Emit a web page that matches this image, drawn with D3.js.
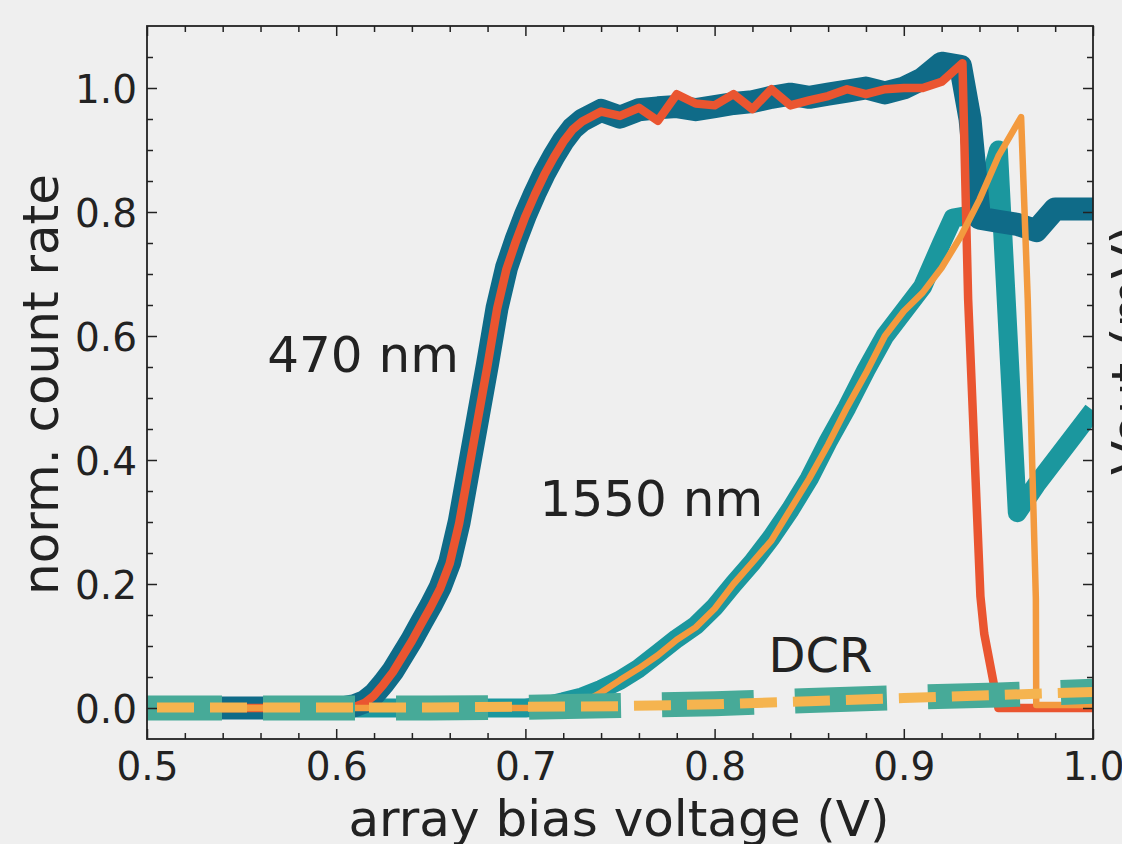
<!DOCTYPE html>
<html>
<head>
<meta charset="utf-8">
<script src="https://cdn.jsdelivr.net/npm/d3@7"></script>
<style>
  html, body { margin: 0; padding: 0; background: #efefef; overflow: hidden; }
  svg { display: block; font-family: "DejaVu Sans", sans-serif; }
</style>
</head>
<body>
<svg id="chart" width="1122" height="844"></svg>
<script>
// ---------------- data ----------------
// 470 nm, thick (dark teal) measurement
const v470Thick = [0.50,0.55,0.60,0.605,0.61,0.615,0.62,0.625,0.63,0.635,0.64,0.645,0.65,0.655,0.66,0.665,0.67,0.675,0.68,0.685,0.69,0.695,0.70,0.705,0.71,0.715,0.72,0.725,0.73,0.74,0.75,0.76,0.77,0.78,0.79,0.80,0.81,0.82,0.83,0.84,0.85,0.86,0.87,0.88,0.89,0.90,0.91,0.92,0.93,0.935,0.94,0.95,0.96,0.97,0.98,0.99,1.00];
const c470Thick = [0.0,0.0,0.0,0.001,0.004,0.010,0.022,0.040,0.060,0.085,0.110,0.138,0.165,0.195,0.235,0.300,0.385,0.470,0.555,0.645,0.710,0.755,0.795,0.830,0.862,0.890,0.915,0.935,0.948,0.964,0.953,0.965,0.968,0.970,0.965,0.970,0.975,0.978,0.985,0.990,0.985,0.990,0.995,1.0,0.992,1.0,1.015,1.04,1.035,0.95,0.79,0.785,0.78,0.77,0.805,0.805,0.805];

// 470 nm, thin (red) measurement
const v470Thin = [0.50,0.55,0.60,0.605,0.61,0.615,0.62,0.625,0.63,0.635,0.64,0.645,0.65,0.655,0.66,0.665,0.67,0.675,0.68,0.685,0.69,0.695,0.70,0.705,0.71,0.715,0.72,0.725,0.73,0.74,0.75,0.76,0.77,0.78,0.79,0.80,0.81,0.82,0.83,0.84,0.85,0.86,0.87,0.88,0.89,0.90,0.91,0.92,0.931,0.934,0.9405,0.9425,0.95,0.97,1.00];
const c470Thin = [0.0,0.0,0.0,0.0,0.002,0.008,0.020,0.038,0.058,0.083,0.108,0.136,0.163,0.193,0.233,0.298,0.383,0.468,0.553,0.643,0.708,0.753,0.793,0.828,0.860,0.888,0.913,0.933,0.946,0.962,0.955,0.968,0.947,0.99,0.975,0.972,0.99,0.966,0.998,0.972,0.98,0.987,0.998,0.99,0.998,1.0,1.0,1.01,1.04,0.66,0.18,0.12,0.0,0.0,0.0];

// 1550 nm, thick (teal) measurement
const v1550Thick = [0.50,0.60,0.70,0.71,0.72,0.73,0.74,0.75,0.76,0.77,0.78,0.79,0.80,0.81,0.82,0.83,0.84,0.85,0.86,0.87,0.88,0.89,0.90,0.91,0.92,0.926,0.935,0.94,0.95,0.96,0.97,0.98,0.99,1.00];
const c1550Thick = [0.0,0.0,0.0,0.003,0.01,0.018,0.03,0.045,0.064,0.088,0.112,0.133,0.163,0.2,0.235,0.275,0.32,0.37,0.43,0.485,0.545,0.6,0.64,0.68,0.75,0.79,0.795,0.79,0.90,0.315,0.36,0.40,0.44,0.48];

// 1550 nm, thin (orange) measurement
const v1550Thin = [0.50,0.60,0.70,0.72,0.73,0.74,0.75,0.76,0.77,0.78,0.79,0.80,0.81,0.82,0.83,0.84,0.85,0.86,0.87,0.88,0.89,0.90,0.91,0.92,0.93,0.94,0.95,0.962,0.9655,0.9698,0.970,1.00];
const c1550Thin = [0.0,0.0,0.0,0.0,0.008,0.025,0.045,0.064,0.085,0.11,0.13,0.16,0.2,0.235,0.27,0.32,0.37,0.425,0.485,0.54,0.6,0.64,0.67,0.71,0.76,0.82,0.89,0.953,0.66,0.176,0.005,0.005];

// dark count rate (DCR), two measurements
const vDcr = [0.50,0.55,0.60,0.65,0.70,0.75,0.80,0.85,0.90,0.95,1.00];
const cDcrTeal = [0.0,0.0,0.0,0.0,0.001,0.004,0.007,0.012,0.017,0.021,0.027];
const cDcrOrange = [0.001,0.001,0.001,0.001,0.002,0.003,0.006,0.011,0.016,0.021,0.026];

const xTicks = [0.5,0.6,0.7,0.8,0.9,1.0];
const xTickLabels = ["0.5","0.6","0.7","0.8","0.9","1.0"];
const yTicks = [0.0,0.2,0.4,0.6,0.8,1.0];
const yTickLabels = ["0.0","0.2","0.4","0.6","0.8","1.0"];

const xLabel = "array bias voltage (V)";
const yLabel = "norm. count rate";
const y2Label = "Vout (mV)";
const annotations = [
  {text: "470 nm", v: 0.5635, c: 0.542},
  {text: "1550 nm", v: 0.7075, c: 0.309},
  {text: "DCR", v: 0.8285, c: 0.058}
];

// ---------------- layout ----------------
const W = 1122, H = 844;
const plot = {left: 147, right: 1093, top: 26, bottom: 739};
const svg = d3.select("#chart");
svg.append("rect").attr("width", W).attr("height", H).attr("fill", "#efefef");

const x = d3.scaleLinear().domain([0.5, 1.0]).range([plot.left, plot.right]);
const y = d3.scaleLinear().domain([-0.05, 1.1]).range([plot.bottom, plot.top]);

svg.append("defs").append("clipPath").attr("id", "clip")
  .append("rect").attr("x", plot.left).attr("y", plot.top)
  .attr("width", plot.right - plot.left).attr("height", plot.bottom - plot.top);

const g = svg.append("g").attr("clip-path", "url(#clip)");
const line = d3.line().x(d => x(d[0])).y(d => y(d[1]));
const zip = (a, b) => a.map((v, i) => [v, b[i]]);

function draw(vs, cs, color, width, dash, offset) {
  const p = g.append("path").datum(zip(vs, cs))
    .attr("d", line).attr("fill", "none")
    .attr("stroke", color).attr("stroke-width", width)
    .attr("stroke-linejoin", "round").attr("stroke-linecap", "butt");
  if (dash) p.attr("stroke-dasharray", dash).attr("stroke-dashoffset", offset || 0);
}

draw(v1550Thick, c1550Thick, "#1b979e", 19);
draw(v470Thick, c470Thick, "#0f6b88", 23);
draw(v470Thin, c470Thin, "#ea5530", 8.5);
draw(v1550Thin, c1550Thin, "#f39a3e", 6.5);
draw(vDcr, cDcrTeal, "#47aa98", 25, "92,41", 17);
draw(vDcr, cDcrOrange, "#f5b44f", 10, "37,16", 43);

// ---------------- axes ----------------
const ink = "#222";
const axisG = svg.append("g");
function styleAxis(sel) {
  sel.select(".domain").remove();
  sel.selectAll(".tick line").attr("stroke", ink).attr("stroke-width", 1.5);
}
const xMinor = d3.range(0.52, 1.0, 0.02).filter(v => Math.abs(v * 10 - Math.round(v * 10)) > 1e-6);
const yMinor = d3.range(0.05, 1.1, 0.05).filter(v => Math.abs(v * 5 - Math.round(v * 5)) > 1e-6);

// bottom
axisG.append("g").attr("transform", `translate(0,${plot.bottom})`)
  .call(d3.axisBottom(x).tickValues(xTicks).tickSize(-10).tickFormat((d, i) => xTickLabels[i]).tickPadding(13))
  .call(styleAxis)
  .call(s => s.selectAll("text").attr("font-size", 39).attr("fill", ink).attr("dy", "0.72em").attr("font-family", "DejaVu Sans"));
axisG.append("g").attr("transform", `translate(0,${plot.bottom})`)
  .call(d3.axisBottom(x).tickValues(xMinor).tickSize(-6).tickFormat(""))
  .call(styleAxis);
// top
axisG.append("g").attr("transform", `translate(0,${plot.top})`)
  .call(d3.axisTop(x).tickValues(xTicks).tickSize(-10).tickFormat(""))
  .call(styleAxis);
axisG.append("g").attr("transform", `translate(0,${plot.top})`)
  .call(d3.axisTop(x).tickValues(xMinor).tickSize(-6).tickFormat(""))
  .call(styleAxis);
// left
axisG.append("g").attr("transform", `translate(${plot.left},0)`)
  .call(d3.axisLeft(y).tickValues(yTicks).tickSize(-10).tickFormat((d, i) => yTickLabels[i]).tickPadding(10))
  .call(styleAxis)
  .call(s => s.selectAll("text").attr("font-size", 39).attr("fill", ink).attr("dy", "0.36em").attr("font-family", "DejaVu Sans"));
axisG.append("g").attr("transform", `translate(${plot.left},0)`)
  .call(d3.axisLeft(y).tickValues(yMinor).tickSize(-6).tickFormat(""))
  .call(styleAxis);
// right
axisG.append("g").attr("transform", `translate(${plot.right},0)`)
  .call(d3.axisRight(y).tickValues(yTicks).tickSize(-10).tickFormat(""))
  .call(styleAxis);
axisG.append("g").attr("transform", `translate(${plot.right},0)`)
  .call(d3.axisRight(y).tickValues(yMinor).tickSize(-6).tickFormat(""))
  .call(styleAxis);

// frame
svg.append("rect").attr("x", plot.left).attr("y", plot.top)
  .attr("width", plot.right - plot.left).attr("height", plot.bottom - plot.top)
  .attr("fill", "none").attr("stroke", ink).attr("stroke-width", 1.8);

// labels
svg.append("text").attr("x", (plot.left + plot.right) / 2 - 1).attr("y", 836)
  .attr("text-anchor", "middle").attr("font-size", 50).attr("fill", ink).text(xLabel);
svg.append("text").attr("transform", `translate(58,${(plot.top + plot.bottom) / 2 + 2}) rotate(-90)`)
  .attr("text-anchor", "middle").attr("font-size", 50).attr("fill", ink).text(yLabel);
svg.append("text").attr("transform", `translate(1147,350) rotate(-90)`)
  .attr("text-anchor", "middle").attr("font-size", 50).attr("fill", ink).text(y2Label);

// annotations
svg.selectAll("text.ann").data(annotations).join("text").attr("class", "ann")
  .attr("x", d => x(d.v)).attr("y", d => y(d.c))
  .attr("font-size", d => d.text === "DCR" ? 48 : 50).attr("fill", ink).text(d => d.text);
</script>
</body>
</html>
